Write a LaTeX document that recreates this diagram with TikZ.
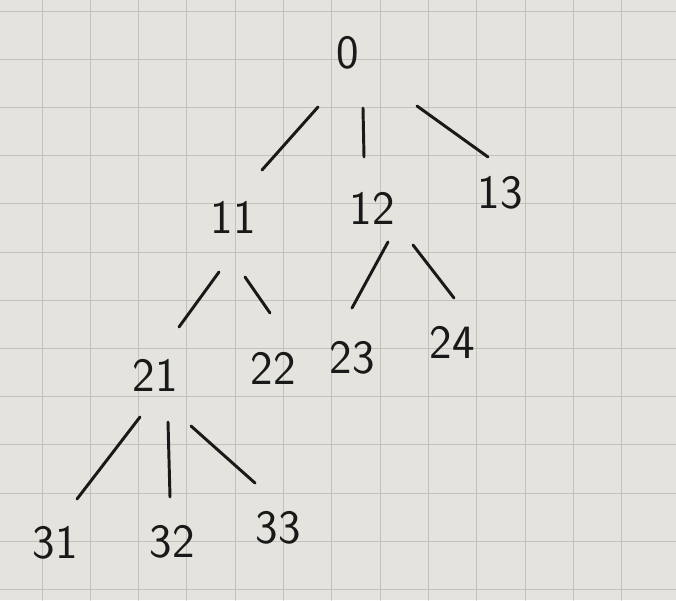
\documentclass[tikz,border=0pt]{standalone}
\usepackage{amsmath}
\definecolor{paper}{RGB}{228,227,222}
\definecolor{gridline}{RGB}{195,193,189}
\definecolor{ink}{RGB}{25,25,25}

\begin{document}
\begin{tikzpicture}[x=0.025cm, y=-0.025cm, line width=2pt, line cap=round,
    num/.style={inner sep=0pt, text=ink, font=\sffamily\fontsize{34}{34}\selectfont},
    branch/.style={draw=ink, line width=2.1pt}]
    % paper: 676 x 600 px, y counted downwards
    \fill[paper] (0,0) rectangle (676,600);
    \useasboundingbox (0,0) rectangle (676,600);

    % --- Squared paper ---
    \foreach \k in {0,...,13} {
        \draw[gridline, line width=0.7pt] (42+48.3*\k-48.3, 0) -- (42+48.3*\k-48.3, 600);
    }
    \foreach \k in {0,...,12} {
        \draw[gridline, line width=0.7pt] (0, 11+48.2*\k) -- (676, 11+48.2*\k);
    }

    % --- Labels (tree nodes) ---
    \node[num] (n0)  at (348, 53)  {0};

    \node[num] (n11) at (233, 217) {11};
    \node[num] (n12) at (372, 208) {12};
    \node[num] (n13) at (500, 193) {13};

    \node[num] (n21) at (155, 375) {21};
    \node[num] (n22) at (273, 368) {22};
    \node[num] (n23) at (352, 358) {23};
    \node[num] (n24) at (452, 342) {24};

    \node[num] (n31) at (55, 543)  {31};
    \node[num] (n32) at (172, 542) {32};
    \node[num] (n33) at (278, 528) {33};

    % --- Branches (free strokes, gaps left at both ends) ---
    % level 1
    \draw[branch] ([shift={(-30,54)}]n0.center) -- ([shift={(29,-47)}]n11.center);
    \draw[branch] ([shift={(15,55)}]n0.center)  -- ([shift={(-8,-51)}]n12.center);
    \draw[branch] ([shift={(69,53)}]n0.center)  -- ([shift={(-12,-36)}]n13.center);

    % level 2
    \draw[branch] ([shift={(-14,55)}]n11.center) -- ([shift={(24,-48)}]n21.center);
    \draw[branch] ([shift={(12,60)}]n11.center)  -- ([shift={(-3,-55)}]n22.center);
    \draw[branch] ([shift={(16,34)}]n12.center)  -- ([shift={(0,-50)}]n23.center);
    \draw[branch] ([shift={(41,37)}]n12.center)  -- ([shift={(2,-44)}]n24.center);

    % level 3
    \draw[branch] ([shift={(-15,42)}]n21.center) -- ([shift={(22,-44)}]n31.center);
    \draw[branch] ([shift={(13,47)}]n21.center)  -- ([shift={(-2,-45)}]n32.center);
    \draw[branch] ([shift={(36,51)}]n21.center)  -- ([shift={(-23,-45)}]n33.center);

\end{tikzpicture}
\end{document}
